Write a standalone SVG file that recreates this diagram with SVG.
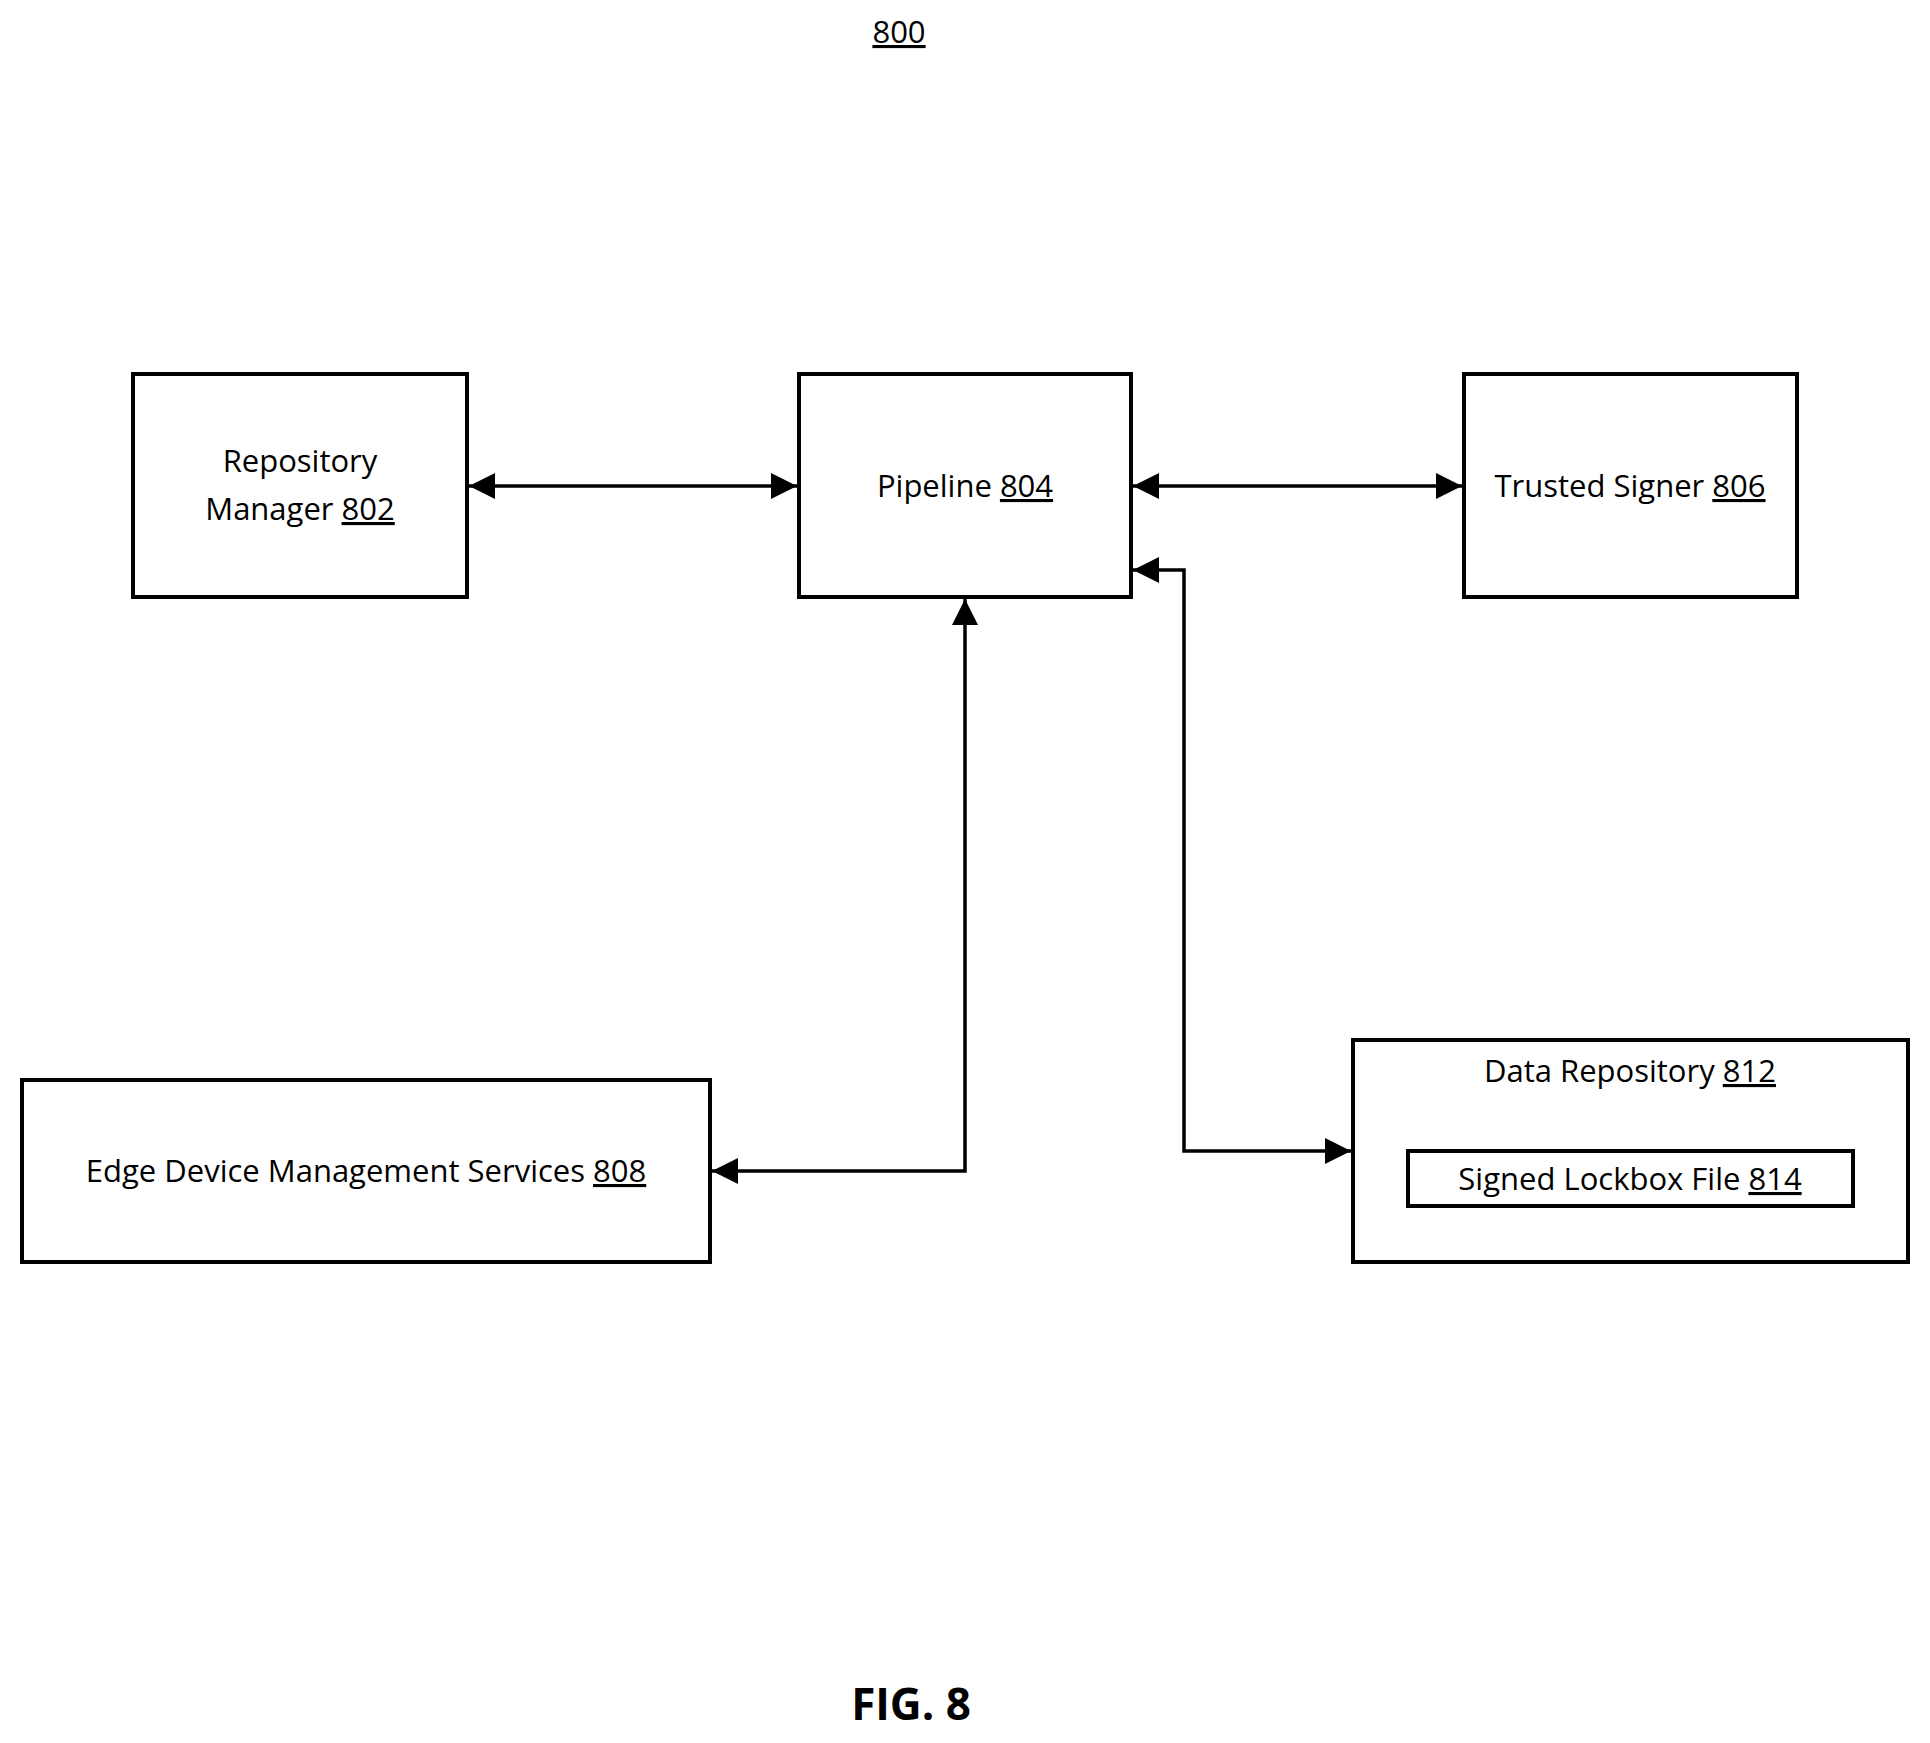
<svg xmlns="http://www.w3.org/2000/svg" width="1930" height="1743" viewBox="0 0 1930 1743">
<defs>
<style>
.box{fill:#fff;stroke:#000;stroke-width:4}
.t{font-family:"Open Sans","Liberation Sans",sans-serif;font-size:31px;fill:#000;text-anchor:middle}
.u{text-decoration:underline}
.c{fill:none;stroke:#000;stroke-width:3.5}
</style>
<marker id="a" viewBox="0 0 10 10" refX="10" refY="5" markerWidth="6" markerHeight="6" markerUnits="userSpaceOnUse" orient="auto-start-reverse"><path d="M0,0L10,5L0,10z" fill="#000"/></marker>
<marker id="h" viewBox="0 0 10 10" refX="10" refY="5" markerWidth="26" markerHeight="26" markerUnits="userSpaceOnUse" orient="auto-start-reverse"><path d="M0,0L10,5L0,10z" fill="#000"/></marker>
</defs>
<rect width="1930" height="1743" fill="#fff"/>
<text class="t u" x="899" y="43">800</text>
<g id="n802"><rect class="box" x="133" y="374" width="334" height="223"/><text class="t" x="300" y="472">Repository</text><text class="t" x="300" y="520">Manager <tspan class="u">802</tspan></text></g>
<g id="n804"><rect class="box" x="799" y="374" width="332" height="223"/><text class="t" x="965" y="497">Pipeline <tspan class="u">804</tspan></text></g>
<g id="n806"><rect class="box" x="1464" y="374" width="333" height="223"/><text class="t" x="1630" y="497">Trusted Signer <tspan class="u">806</tspan></text></g>
<g id="n808"><rect class="box" x="22" y="1080" width="688" height="182"/><text class="t" x="366" y="1182">Edge Device Management Services <tspan class="u">808</tspan></text></g>
<g id="n812"><rect class="box" x="1353" y="1040" width="555" height="222"/><text class="t" x="1630" y="1082">Data Repository <tspan class="u">812</tspan></text></g>
<g id="n814"><rect class="box" x="1408" y="1151" width="445" height="55"/><text class="t" x="1630" y="1190">Signed Lockbox File <tspan class="u">814</tspan></text></g>
<g id="connectors">
<path class="c" d="M469,486H797" marker-start="url(#h)" marker-end="url(#h)"/>
<path class="c" d="M1133,486H1462" marker-start="url(#h)" marker-end="url(#h)"/>
<path class="c" d="M965,599V1171H712" marker-start="url(#h)" marker-end="url(#h)"/>
<path class="c" d="M1133,570H1184V1151H1351" marker-start="url(#h)" marker-end="url(#h)"/>
</g>
<text class="t" x="911" y="1720" style="font-size:44px;font-weight:bold">FIG. 8</text>
</svg>
